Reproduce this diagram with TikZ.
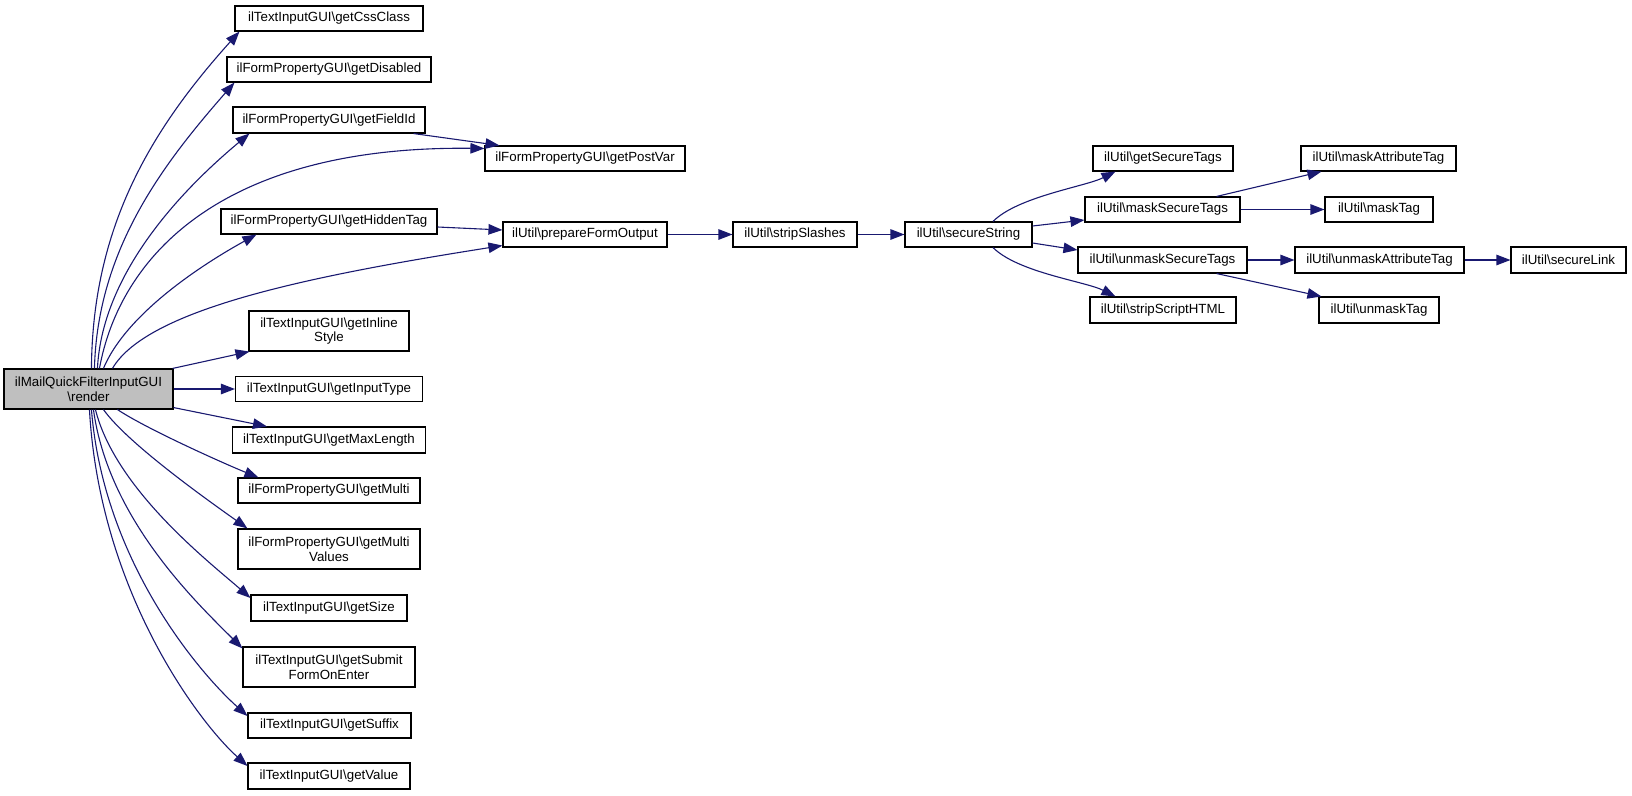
\documentclass[tikz,border=0pt]{standalone}
\usepackage{fontspec}
\setmainfont{Liberation Sans}
\usetikzlibrary{arrows.meta}
\definecolor{edgeblue}{HTML}{191970}
\definecolor{rootgray}{HTML}{BFBFBF}
\begin{document}
\begin{tikzpicture}[x=1pt,y=-1pt,
  fnbox/.style={draw=black, line width=1.1pt, rectangle, inner sep=0pt, align=center,
    font=\fontsize{13.3}{14.5}\selectfont},
  sz/.style 2 args={minimum width=#1pt, minimum height=#2pt},
  call/.style={draw=edgeblue, line width=1.1pt, -{Triangle[length=14pt,width=10.5pt]}}
]
\useasboundingbox (0,0) rectangle (1632,795);

% nodes
\node[fnbox, sz={169}{40}, fill=rootgray] (render) at (88.5,389) {ilMailQuickFilterInputGUI\\\textbackslash render};
\node[fnbox, sz={188}{25}] (getCssClass) at (329,18.5) {ilTextInputGUI\textbackslash getCssClass};
\node[fnbox, sz={204}{25}] (getDisabled) at (329,69.5) {ilFormPropertyGUI\textbackslash getDisabled};
\node[fnbox, sz={192}{26}] (getFieldId) at (329,120) {ilFormPropertyGUI\textbackslash getFieldId};
\node[fnbox, sz={200}{25}] (getPostVar) at (585,158.5) {ilFormPropertyGUI\textbackslash getPostVar};
\node[fnbox, sz={216}{25}] (getHiddenTag) at (329,221.5) {ilFormPropertyGUI\textbackslash getHiddenTag};
\node[fnbox, sz={164}{25}] (prepareFormOutput) at (585,234.5) {ilUtil\textbackslash prepareFormOutput};
\node[fnbox, sz={160}{40}] (getInlineStyle) at (329,331) {ilTextInputGUI\textbackslash getInline\\Style};
\node[fnbox, sz={187}{25}] (getInputType) at (329,389) {ilTextInputGUI\textbackslash getInputType};
\node[fnbox, sz={193}{26}] (getMaxLength) at (329,440) {ilTextInputGUI\textbackslash getMaxLength};
\node[fnbox, sz={182}{25}] (getMulti) at (329,490.5) {ilFormPropertyGUI\textbackslash getMulti};
\node[fnbox, sz={182}{40}] (getMultiValues) at (329,549) {ilFormPropertyGUI\textbackslash getMulti\\Values};
\node[fnbox, sz={156}{26}] (getSize) at (329,608) {ilTextInputGUI\textbackslash getSize};
\node[fnbox, sz={172}{40}] (getSubmit) at (329,667) {ilTextInputGUI\textbackslash getSubmit\\FormOnEnter};
\node[fnbox, sz={163}{25}] (getSuffix) at (329.5,725.5) {ilTextInputGUI\textbackslash getSuffix};
\node[fnbox, sz={162}{26}] (getValue) at (329,776) {ilTextInputGUI\textbackslash getValue};
\node[fnbox, sz={124}{25}] (stripSlashes) at (795,234.5) {ilUtil\textbackslash stripSlashes};
\node[fnbox, sz={127}{25}] (secureString) at (968.5,234.5) {ilUtil\textbackslash secureString};
\node[fnbox, sz={140}{25}] (getSecureTags) at (1163,158.5) {ilUtil\textbackslash getSecureTags};
\node[fnbox, sz={155}{25}] (maskSecureTags) at (1162.5,209.5) {ilUtil\textbackslash maskSecureTags};
\node[fnbox, sz={169}{26}] (unmaskSecureTags) at (1162.5,260) {ilUtil\textbackslash unmaskSecureTags};
\node[fnbox, sz={146}{26}] (stripScriptHTML) at (1163,310) {ilUtil\textbackslash stripScriptHTML};
\node[fnbox, sz={155}{25}] (maskAttributeTag) at (1378.5,158.5) {ilUtil\textbackslash maskAttributeTag};
\node[fnbox, sz={108}{25}] (maskTag) at (1379,209.5) {ilUtil\textbackslash maskTag};
\node[fnbox, sz={169}{26}] (unmaskAttributeTag) at (1379.5,260) {ilUtil\textbackslash unmaskAttributeTag};
\node[fnbox, sz={115}{26}] (secureLink) at (1568.5,260) {ilUtil\textbackslash secureLink};
\node[fnbox, sz={120}{26}] (unmaskTag) at (1379,310) {ilUtil\textbackslash unmaskTag};

% edges from render, upward
\draw[call] ([xshift=88pt]render.north west) .. controls +(1,-140) and +(-90,100) .. ([xshift=5pt]getCssClass.south west);
\draw[call] ([xshift=91pt]render.north west) .. controls +(3,-120) and +(-70,80) .. ([xshift=8pt]getDisabled.south west);
\draw[call] ([xshift=94pt]render.north west) .. controls +(5,-100) and +(-60,50) .. ([xshift=17pt]getFieldId.south west);
\draw[call] ([xshift=96pt]render.north west) .. controls +(20,-110) and +(-265,-3) .. ([yshift=-3pt]getPostVar.north west);
\draw[call] ([xshift=100pt]render.north west) .. controls +(25,-60) and +(-40,22) .. ([xshift=36pt]getHiddenTag.south west);
\draw[call] ([xshift=109pt]render.north west) .. controls +(35,-60) and +(-190,30) .. ([yshift=2pt]prepareFormOutput.south west);
\draw[call] ([xshift=-1pt]render.north east) -- ([xshift=1pt]getInlineStyle.south west);
% straight
\draw[call] (render.east) -- (render.east -| getInputType.west);
% downward
\draw[call] ([yshift=2pt]render.south east) -- ([xshift=35pt]getMaxLength.north west);
\draw[call] ([xshift=114pt]render.south west) .. controls +(30,20) and +(-30,-12) .. ([xshift=21pt]getMulti.north west);
\draw[call] ([xshift=100pt]render.south west) .. controls +(25,35) and +(-35,-25) .. ([xshift=10pt]getMultiValues.north west);
\draw[call] ([xshift=92pt]render.south west) .. controls +(20,80) and +(-40,-35) .. ([yshift=10pt]getSize.west);
\draw[call] ([xshift=90pt]render.south west) .. controls +(15,110) and +(-45,-45) .. ([yshift=-2pt]getSubmit.north west);
\draw[call] ([xshift=88pt]render.south west) .. controls +(12,150) and +(-50,-45) .. ([yshift=9.5pt]getSuffix.west);
\draw[call] ([xshift=86pt]render.south west) .. controls +(10,180) and +(-50,-45) .. ([yshift=10pt]getValue.west);

% second level
\draw[call] ([xshift=-12pt]getFieldId.south east) -- ([xshift=15pt]getPostVar.north west);
\draw[call] ([yshift=-5.5pt]getHiddenTag.east) -- ([yshift=4.5pt]prepareFormOutput.west);
\draw[call] (prepareFormOutput.east) -- (stripSlashes.west);
\draw[call] (stripSlashes.east) -- (secureString.west);
\draw[call] ([xshift=24.5pt]secureString.north) .. controls +(25,-25) and +(-30,15) .. ([xshift=23pt]getSecureTags.south west);
\draw[call] ([yshift=8.5pt]secureString.east) -- ([yshift=-10.5pt]maskSecureTags.west);
\draw[call] ([yshift=-8.5pt]secureString.east) -- ([yshift=10pt]unmaskSecureTags.west);
\draw[call] ([xshift=24.5pt]secureString.south) .. controls +(25,25) and +(-30,-15) .. ([xshift=26pt]stripScriptHTML.north west);
\draw[call] ([xshift=-24pt]maskSecureTags.north east) -- ([xshift=21pt]maskAttributeTag.south west);
\draw[call] (maskSecureTags.east) -- (maskTag.west);
\draw[call] (unmaskSecureTags.east) -- (unmaskAttributeTag.west);
\draw[call] ([xshift=-31pt]unmaskSecureTags.south east) -- ([xshift=3pt]unmaskTag.north west);
\draw[call] (unmaskAttributeTag.east) -- (secureLink.west);
\end{tikzpicture}
\end{document}
